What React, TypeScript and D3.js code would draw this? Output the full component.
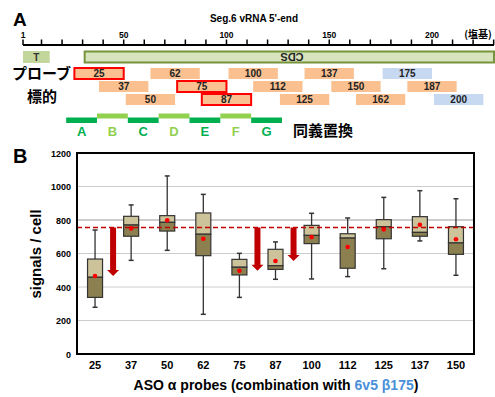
import React from 'react';
import * as d3 from 'd3';

// panel A: probe map along Seg.6 vRNA
const probeStarts = [25, 37, 50, 62, 75, 87, 100, 112, 125, 137, 150, 162, 175, 187, 200];
const probeHighlight = [25, 75, 87];
const probeBeta = [175, 200];
const baseTicks = [1, 50, 100, 150, 200];
const synSegments = ['A', 'B', 'C', 'D', 'E', 'F', 'G'];
const synStarts = [22, 37, 52, 67, 82, 97, 112];

// panel B: box plots
const categories = ['25', '37', '50', '62', '75', '87', '100', '112', '125', '137', '150'];
const whiskerLow = [279, 559, 619, 237, 338, 446, 448, 462, 509, 675, 470];
const q1 = [338, 703, 734, 587, 472, 505, 659, 512, 688, 703, 595];
const medians = [458, 770, 786, 715, 518, 527, 708, 692, 760, 726, 663];
const q3 = [567, 822, 826, 842, 565, 625, 768, 718, 802, 820, 760];
const whiskerHigh = [740, 890, 1063, 953, 601, 669, 840, 812, 935, 975, 927];
const means = [466, 750, 798, 688, 497, 555, 698, 639, 744, 772, 685];
const reference = 755;
const arrowFrom = [['25', '37'], ['75', '87'], ['87', '100']];
const arrowTarget = ['25', '75', '87'];
const yTicks = [0, 200, 400, 600, 800, 1000, 1200];

const sans = '"Liberation Sans", Arial, sans-serif';
const cjk = '"Noto Sans CJK JP", sans-serif';

export default function App() {
  const xb = d3.scaleLinear().domain([1, 200]).range([23, 432]);
  const rowY = [68, 81, 94];
  const rowH = 11;

  const x = d3.scaleBand().domain(categories).range([77, 474]);
  const y = d3.scaleLinear().domain([0, 1200]).range([354, 153]);
  const boxW = 15;
  const cx = (c: string) => (x(c) as number) + x.bandwidth() / 2;

  const minorTicks = d3.range(10, 231, 10);

  return (
    <svg width={495} height={397} style={{ position: 'absolute', left: 0, top: 0, background: '#fff' }}>
      {/* ---------- panel A ---------- */}
      <text x={13} y={26} fontFamily={sans} fontWeight="bold" fontSize={19}>A</text>
      <text x={254} y={22} fontFamily={sans} fontWeight="bold" fontSize={10} textAnchor="middle">Seg.6 vRNA 5'-end</text>
      <line x1={xb(1)} x2={494} y1={45} y2={45} stroke="#000" strokeWidth={2} />
      {[1, ...minorTicks].map(t => (
        <line key={t} x1={xb(t)} x2={xb(t)} y1={39.5} y2={45} stroke="#000" strokeWidth={1.5} />
      ))}
      {baseTicks.map(t => (
        <text key={t} x={xb(t)} y={37.5} fontFamily={sans} fontWeight="bold" fontSize={8.5} textAnchor="middle">{t}</text>
      ))}
      <text x={478} y={38} fontFamily={cjk} fontWeight="bold" fontSize={10} textAnchor="middle">(塩基)</text>

      <rect x={xb(1)} y={51} width={xb(14) - xb(1)} height={12} fill="#c3d69b" />
      <text x={(xb(1) + xb(14)) / 2} y={61} fontFamily={sans} fontWeight="bold" fontSize={10} textAnchor="middle" fill="#333">T</text>
      <rect x={xb(31)} y={51.5} width={494 - xb(31)} height={11} fill="#d7e4bd" stroke="#77933c" strokeWidth={2} />
      <text transform={`translate(292,57) rotate(180)`} fontFamily={sans} fontWeight="bold" fontSize={11} textAnchor="middle" dominantBaseline="central" fill="#222">CDS</text>

      <text x={12} y={79} fontFamily={cjk} fontWeight="bold" fontSize={15}>プローブ</text>
      <text x={27} y={102} fontFamily={cjk} fontWeight="bold" fontSize={15}>標的</text>

      {probeStarts.map((p, i) => {
        const hi = probeHighlight.includes(p);
        const beta = probeBeta.includes(p);
        const x0 = xb(p + 1);
        const x1 = xb(p + 25);
        const yy = rowY[i % 3];
        return (
          <g key={p}>
            <rect x={x0} y={yy} width={x1 - x0} height={rowH}
              fill={beta ? '#c6d9f1' : '#fac090'}
              stroke={hi ? '#ff0000' : 'none'} strokeWidth={2} />
            <text x={(x0 + x1) / 2} y={yy + 9} fontFamily={sans} fontWeight="bold" fontSize={10} textAnchor="middle" fill="#222">{p}</text>
          </g>
        );
      })}

      {synSegments.map((s, i) => {
        const dark = i % 2 === 0;
        const x0 = xb(synStarts[i]);
        const x1 = xb(synStarts[i] + 15);
        const col = dark ? '#00b050' : '#92d050';
        return (
          <g key={s}>
            <rect x={x0} y={dark ? 117.5 : 113.5} width={x1 - x0} height={dark ? 5.5 : 5} fill={col} />
            <text x={(x0 + x1) / 2} y={136} fontFamily={sans} fontWeight="bold" fontSize={13} textAnchor="middle" fill={col}>{s}</text>
          </g>
        );
      })}
      <text x={293} y={136} fontFamily={cjk} fontWeight="bold" fontSize={15}>同義置換</text>

      {/* ---------- panel B ---------- */}
      <text x={13} y={163} fontFamily={sans} fontWeight="bold" fontSize={20}>B</text>
      {yTicks.filter(t => t > 0 && t < 1200).map(t => (
        <line key={t} x1={77} x2={474} y1={y(t)} y2={y(t)} stroke={t === 800 ? '#999' : '#ccc'} strokeWidth={1} />
      ))}
      {yTicks.map(t => (
        <text key={t} x={71} y={y(t) + 3.5} fontFamily={sans} fontWeight="bold" fontSize={9} textAnchor="end">{t}</text>
      ))}
      <text transform="translate(41,254) rotate(-90)" fontFamily={sans} fontWeight="bold" fontSize={15} textAnchor="middle">signals / cell</text>

      {categories.map((c, i) => {
        const xc = cx(c);
        return (
          <g key={c}>
            <line x1={xc} x2={xc} y1={y(whiskerHigh[i])} y2={y(q3[i])} stroke="#333" strokeWidth={1.3} />
            <line x1={xc} x2={xc} y1={y(q1[i])} y2={y(whiskerLow[i])} stroke="#333" strokeWidth={1.3} />
            <line x1={xc - 2.5} x2={xc + 2.5} y1={y(whiskerHigh[i])} y2={y(whiskerHigh[i])} stroke="#333" strokeWidth={1.5} />
            <line x1={xc - 2.5} x2={xc + 2.5} y1={y(whiskerLow[i])} y2={y(whiskerLow[i])} stroke="#333" strokeWidth={1.5} />
            <rect x={xc - boxW / 2} y={y(q3[i])} width={boxW} height={y(medians[i]) - y(q3[i])} fill="#cdc39a" stroke="#333" strokeWidth={1.2} />
            <rect x={xc - boxW / 2} y={y(medians[i])} width={boxW} height={y(q1[i]) - y(medians[i])} fill="#8c8050" stroke="#333" strokeWidth={1.2} />
            <circle cx={xc} cy={y(means[i])} r={2.3} fill="#ff0000" />
            <text x={xc} y={369} fontFamily={sans} fontWeight="bold" fontSize={11} textAnchor="middle">{c}</text>
          </g>
        );
      })}

      <line x1={77} x2={474} y1={y(reference)} y2={y(reference)} stroke="#c00000" strokeWidth={1.5} strokeDasharray="5,3" />
      {arrowFrom.map(([a, b], i) => {
        const xc = (cx(a) + cx(b)) / 2;
        const tip = y(means[categories.indexOf(arrowTarget[i])]);
        const top = y(reference);
        const path = d3.path();
        path.moveTo(xc - 3, top);
        path.lineTo(xc + 3, top);
        path.lineTo(xc + 3, tip - 6);
        path.lineTo(xc + 6, tip - 6);
        path.lineTo(xc, tip);
        path.lineTo(xc - 6, tip - 6);
        path.lineTo(xc - 3, tip - 6);
        path.closePath();
        return <path key={i} d={path.toString()} fill="#c00000" />;
      })}

      <rect x={77} y={153} width={397} height={201} fill="none" stroke="#000" strokeWidth={2} />

      <text x={276} y={390} fontFamily={sans} fontWeight="bold" fontSize={14} textAnchor="middle">
        ASO α probes (combination with <tspan fill="#4a8fd8">6v5 β175</tspan>)
      </text>
    </svg>
  );
}
